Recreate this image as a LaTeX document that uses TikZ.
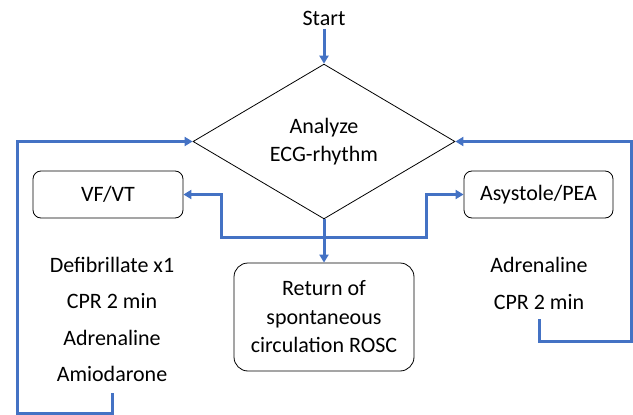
\documentclass[tikz,border=0pt]{standalone}
\usepackage{fontspec}
\setmainfont{Carlito}
\usetikzlibrary{arrows.meta, shapes.geometric, positioning}

\definecolor{flowblue}{RGB}{68,114,196}

\begin{document}
\begin{tikzpicture}[x=1pt,y=-1pt,>={Triangle[length=8pt,width=9pt]},
      every node/.style={font=\fontsize{22}{26}\selectfont},
      box/.style={draw,thick,rounded corners=8pt,minimum width=150pt,minimum height=47pt,inner sep=0pt},
      flow/.style={draw=flowblue,line width=3pt},
      steps/.style={align=center,font=\fontsize{22}{36.3}\selectfont}]

      \useasboundingbox (0,0) rectangle (633,415);

      \node                                  (start) at (324,18)   {Start};
      \node[diamond,draw,thick,minimum width=262pt,minimum height=143pt,inner sep=0pt,
            align=center,font=\fontsize{22}{28}\selectfont]
                                             (ecg)   at (324,141.5) {Analyze\\ECG-rhythm};
      \node[box]                             (vf)    at (108,194.5) {VF/VT};
      \node[box,minimum width=149pt]         (asys)  at (538.5,194.5) {Asystole/PEA};
      \node[box,rounded corners=14pt,minimum width=180pt,minimum height=108pt,
            align=center,font=\fontsize{22}{28.5}\selectfont]
                                             (rosc)  at (324,317)  {Return of\\spontaneous\\circulation ROSC};
      \node[steps]                           (vflist) at (112,319.5) {Defibrillate x1\\CPR 2 min\\Adrenaline\\Amiodarone};
      \node[steps]                           (aslist) at (539,283.5) {Adrenaline\\CPR 2 min};

      % branching below the rhythm check
      \coordinate (split)  at (324,237);
      \coordinate (lsplit) at (221,237);
      \coordinate (rsplit) at (426,237);
      \coordinate (vfend)  at (112,393);
      \coordinate (asend)  at (539,319);

      \draw[flow,->] (start) -- (ecg.north);
      \draw[flow,->] (ecg.south) -- (rosc.north);
      \draw[flow,->] (split) -- (lsplit) |- (vf.east);
      \draw[flow,->] (split) -- (rsplit) |- (asys.west);

      % loops back to the analysis
      \draw[flow,->] (vfend) -- (112,413) -- (17,413) |- (ecg.west);
      \draw[flow,->] (asend) -- (539,341) -- (631,341) |- (ecg.east);
    \end{tikzpicture}
\end{document}
